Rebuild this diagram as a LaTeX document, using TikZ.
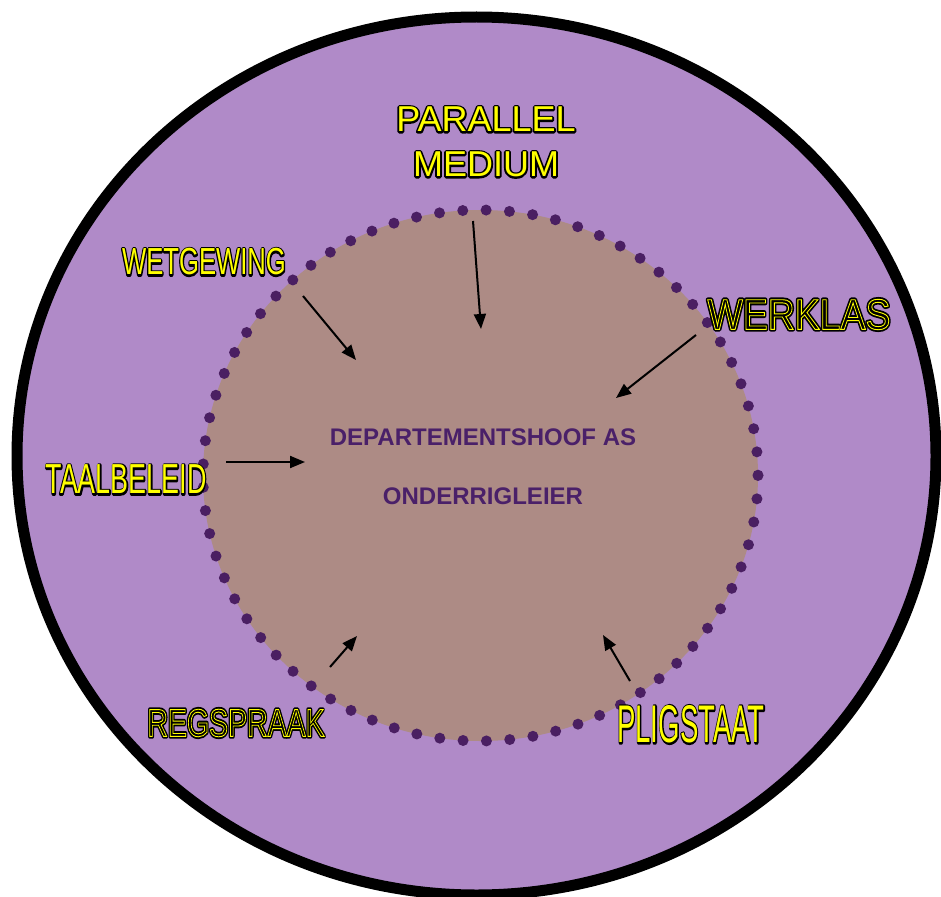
\documentclass[tikz,border=0pt]{standalone}
\usepackage{fontspec}
\usepackage{tikz}
\usetikzlibrary{arrows.meta}
\newfontfamily\arialfont{Liberation Sans}
\definecolor{ring_purple}{RGB}{176, 138, 200}
\definecolor{core_brown}{RGB}{173, 139, 133}
\definecolor{dot_purple}{RGB}{74, 31, 98}
\definecolor{head_purple}{RGB}{74, 32, 105}
\newcommand{\yellowtext}[1]{\rlap{\special{pdf:literal direct q 2 Tr 3.6 w 1 j 0 0 0 RG 0 0 0 rg}#1\special{pdf:literal direct Q}}\special{pdf:literal direct q 0 Tr 1 1 0 rg 1 1 0 RG}#1\special{pdf:literal direct Q}}
\newcommand{\blacktext}[1]{\rlap{\special{pdf:literal direct q 2 Tr 4.6 w 1 j 0 0 0 RG 0 0 0 rg}#1\special{pdf:literal direct Q}}\special{pdf:literal direct q 1 Tr 0.9 w 1 1 0 RG 0 0 0 rg}#1\special{pdf:literal direct Q}}
\tikzstyle{lbl}=[inner sep=0pt,align=center]
\tikzstyle{core}=[inner sep=0pt,align=center,text=head_purple,
  font=\arialfont\bfseries\fontsize{24}{59}\selectfont]
\tikzstyle{arr}=[line width=2pt,-{Triangle[length=15pt,width=12pt]}]

\begin{document}
\begin{tikzpicture}[x=1pt,y=-1pt]
    \useasboundingbox (0,0) rectangle (941,896);
    \fill [white] (0,0) rectangle (941,896);
    \draw [fill=ring_purple,line width=11pt] (476.5,456) ellipse [x radius=459.5,y radius=439];
    \fill [core_brown] (480.5,475.5) ellipse [x radius=277.5,y radius=265.5];
    \draw [dot_purple,line width=11pt,line cap=round,dash pattern=on 0pt off 23.37pt]
      (480.5,475.5) ellipse [x radius=277.5,y radius=265.5];
    \node [style=core] (head) at (483,466.5) {DEPARTEMENTSHOOF AS\\ONDERRIGLEIER};
    \node [style=lbl,font=\arialfont\fontsize{36}{45}\selectfont] (par) at (486,142)
      {\yellowtext{PARALLEL}\\\yellowtext{MEDIUM}};
    \node [style=lbl] (wet) at (204,262)
      {\scalebox{0.68}[1]{\arialfont\fontsize{37.7}{40}\selectfont\yellowtext{WETGEWING}}};
    \node [style=lbl] (werk) at (799,314.5)
      {\scalebox{0.87}[1]{\arialfont\fontsize{43}{45}\selectfont\blacktext{WERKLAS}}};
    \node [style=lbl] (taal) at (126,479.5)
      {\scalebox{0.64}[1]{\arialfont\fontsize{42}{45}\selectfont\yellowtext{TAALBELEID}}};
    \node [style=lbl] (reg) at (236,723)
      {\scalebox{0.73}[1]{\arialfont\fontsize{39}{42}\selectfont\blacktext{REGSPRAAK}}};
    \node [style=lbl] (plig) at (691,724.5)
      {\scalebox{0.52}[1]{\arialfont\fontsize{53}{55}\selectfont\yellowtext{PLIGSTAAT}}};
    \coordinate (parS) at (473,221);
    \coordinate (parE) at (481,329);
    \coordinate (wetS) at (303,296);
    \coordinate (wetE) at (356,360);
    \coordinate (werkS) at (696,335);
    \coordinate (werkE) at (616,398);
    \coordinate (taalS) at (226,462);
    \coordinate (taalE) at (305,462);
    \coordinate (regS) at (330,667);
    \coordinate (regE) at (357,636);
    \coordinate (pligS) at (630,681);
    \coordinate (pligE) at (603,635);
    \draw [style=arr] (parS) to (parE);
    \draw [style=arr] (wetS) to (wetE);
    \draw [style=arr] (werkS) to (werkE);
    \draw [style=arr] (taalS) to (taalE);
    \draw [style=arr] (regS) to (regE);
    \draw [style=arr] (pligS) to (pligE);
  \end{tikzpicture}
\end{document}
